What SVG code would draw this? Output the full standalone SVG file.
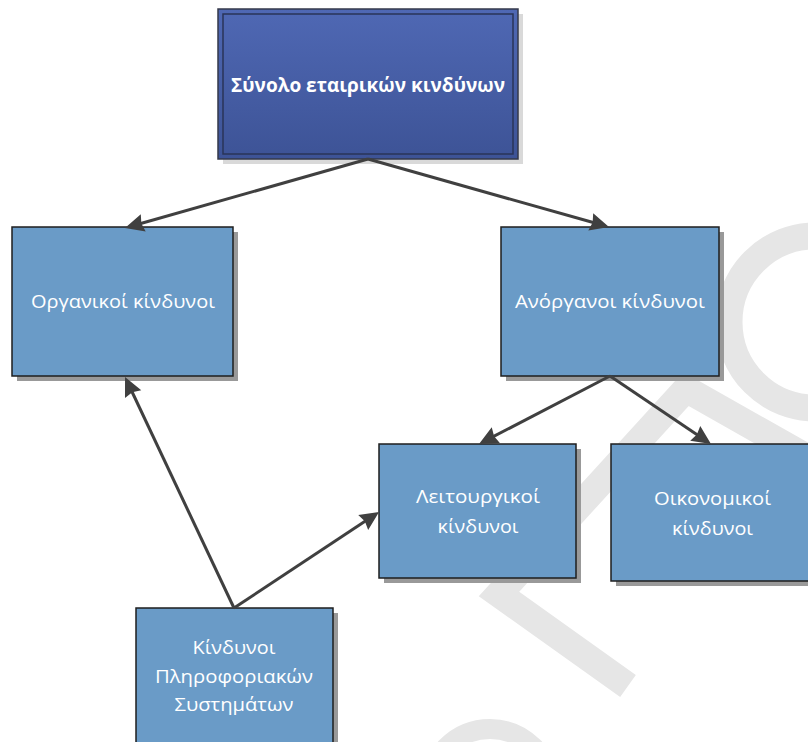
<svg xmlns="http://www.w3.org/2000/svg" width="808" height="742" viewBox="0 0 808 742">
<style>
.wm{fill:none;stroke:#e6e6e6;stroke-width:27}
.sh{fill:#999999}
.shl{fill:#d9d9d9}
.box{fill:#6a9bc7;stroke:#1e1e1e;stroke-width:1.5}
.lbl{font-family:"Open Sans","Noto Sans",sans-serif;font-size:18px;fill:#ffffff;text-anchor:middle}
.ttl{font-family:"Open Sans","Noto Sans",sans-serif;font-size:19.5px;font-weight:bold;fill:#ffffff;text-anchor:middle}
.con{fill:none;stroke:#404040;stroke-width:3}
</style>
<defs>
<linearGradient id="g" x1="0" y1="0" x2="0" y2="1">
<stop offset="0" stop-color="#4f68b4"/>
<stop offset="1" stop-color="#3d5396"/>
</linearGradient>
<marker id="ah" markerUnits="userSpaceOnUse" orient="auto" refX="0" refY="0" viewBox="-10 -10 22 20" markerWidth="22" markerHeight="20">
<path d="M10,0 L-9,-9 L-7,0 L-9,9 Z" fill="#404040"/>
</marker>
</defs>
<rect width="808" height="742" fill="#ffffff"/>
<g id="watermark">
<polyline class="wm" points="628,686 499,594 686,389 822,466"/>
<circle class="wm" cx="815" cy="322" r="86"/>
<circle class="wm" cx="490" cy="790" r="61" style="stroke-width:20"/>
</g>
<g id="n-total">
<rect class="shl" x="223" y="14" width="300" height="150"/>
<rect x="218" y="9" width="300" height="150" fill="url(#g)" stroke="#34384a" stroke-width="1.5"/>
<rect x="223" y="14" width="290" height="140" fill="none" stroke="#2a3458" stroke-width="1.5"/>
<text class="ttl" x="368" y="92" textLength="274" lengthAdjust="spacingAndGlyphs">Σύνολο εταιρικών κινδύνων</text>
</g>
<g id="n-organic">
<rect class="sh" x="17" y="232" width="221" height="149"/>
<rect class="box" x="12" y="227" width="221" height="149"/>
<text class="lbl" x="123" y="308" textLength="184" lengthAdjust="spacingAndGlyphs">Οργανικοί κίνδυνοι</text>
</g>
<g id="n-inorganic">
<rect class="sh" x="506" y="232" width="218" height="149"/>
<rect class="box" x="501" y="227" width="218" height="149"/>
<text class="lbl" x="610" y="308" textLength="190" lengthAdjust="spacingAndGlyphs">Ανόργανοι κίνδυνοι</text>
</g>
<g id="n-operational">
<rect class="sh" x="384" y="449" width="197" height="134"/>
<rect class="box" x="379" y="444" width="197" height="134"/>
<text class="lbl" x="478" y="503" textLength="124" lengthAdjust="spacingAndGlyphs">Λειτουργικοί</text>
<text class="lbl" x="478" y="533" textLength="81" lengthAdjust="spacingAndGlyphs">κίνδυνοι</text>
</g>
<g id="n-financial">
<rect class="sh" x="616" y="449" width="205" height="137"/>
<rect class="box" x="611" y="444" width="205" height="137"/>
<text class="lbl" x="712.5" y="505" textLength="117" lengthAdjust="spacingAndGlyphs">Οικονομικοί</text>
<text class="lbl" x="712.5" y="535" textLength="81" lengthAdjust="spacingAndGlyphs">κίνδυνοι</text>
</g>
<g id="n-is">
<rect class="sh" x="141" y="613" width="197" height="140"/>
<rect class="box" x="136" y="608" width="197" height="140"/>
<text class="lbl" x="234" y="654" textLength="83" lengthAdjust="spacingAndGlyphs">Κίνδυνοι</text>
<text class="lbl" x="234" y="683" textLength="158" lengthAdjust="spacingAndGlyphs">Πληροφοριακών</text>
<text class="lbl" x="234" y="711" textLength="119" lengthAdjust="spacingAndGlyphs">Συστημάτων</text>
</g>
<g id="connectors">
<path class="con" d="M368,159 L134.6,225.3" marker-end="url(#ah)"/>
<path class="con" d="M368,159 L599.4,224.3" marker-end="url(#ah)"/>
<path class="con" d="M610,376 L487.9,439.4" marker-end="url(#ah)"/>
<path class="con" d="M610,376 L702.7,438.4" marker-end="url(#ah)"/>
<path class="con" d="M234,608 L129.3,386" marker-end="url(#ah)"/>
<path class="con" d="M234,608 L370.7,517.5" marker-end="url(#ah)"/>
</g>
</svg>
